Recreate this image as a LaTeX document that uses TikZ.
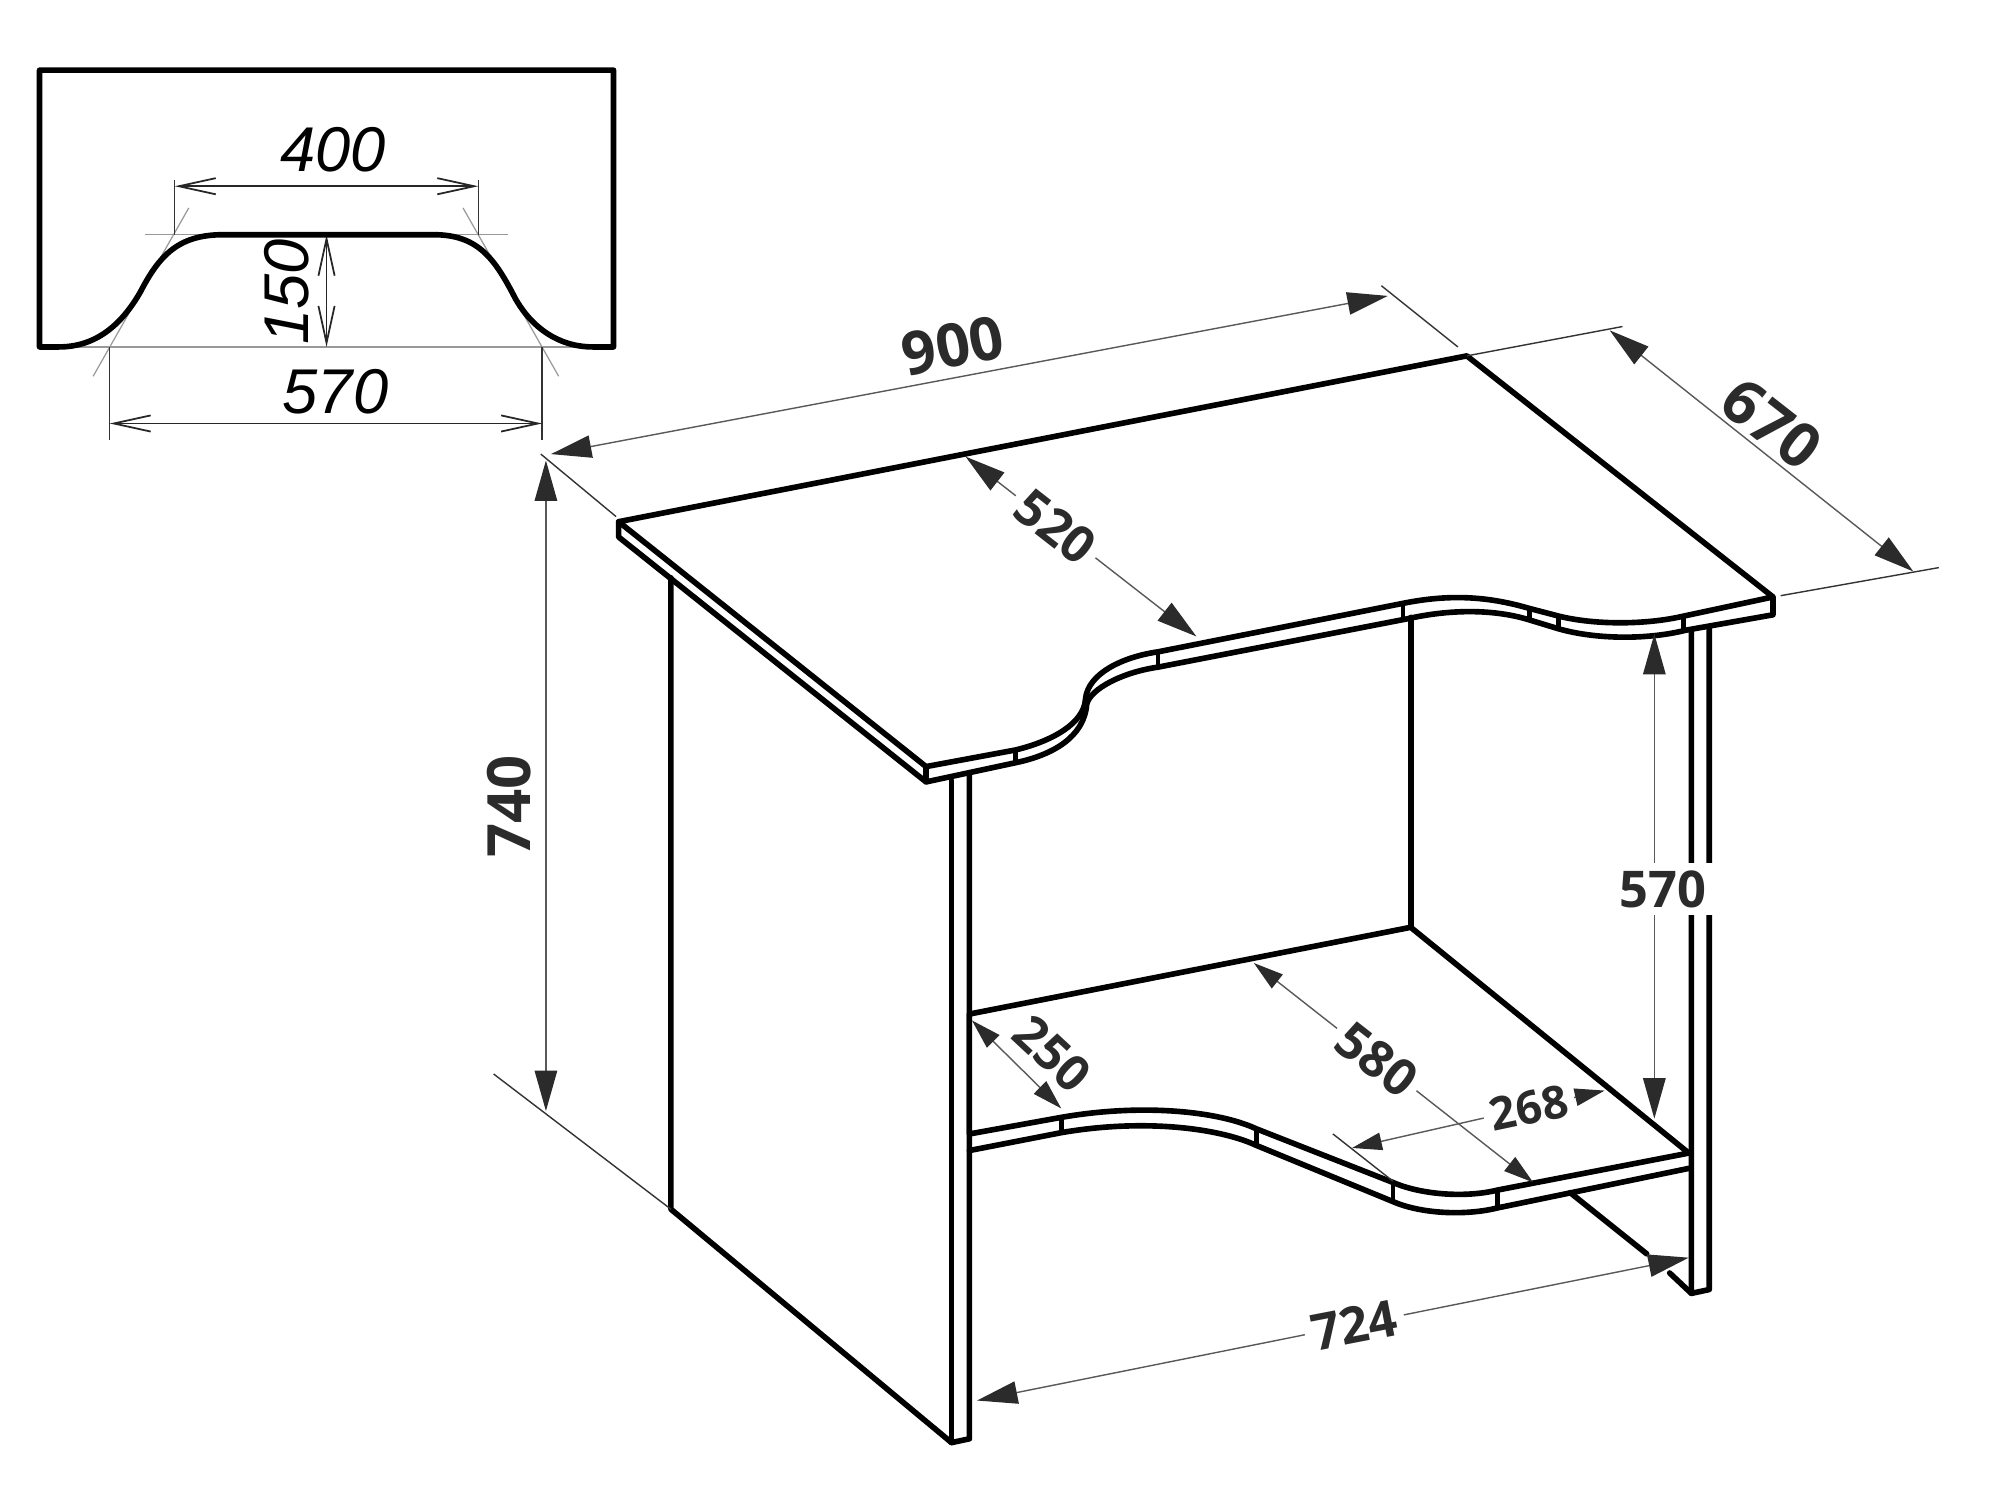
\documentclass[tikz,border=0pt]{standalone}
\usepackage{fontspec}
\usetikzlibrary{arrows.meta}
\setmainfont{Open Sans}
\newfontfamily\sketchfont{Liberation Sans}

\definecolor{tipdark}{HTML}{2B2B2B}

\begin{document}
\begin{tikzpicture}[x=0.012755cm, y=-0.012755cm,
  part/.style={line width=1.6pt, line join=round, line cap=round},
  edge/.style={line width=1.3pt},
  ext/.style={line width=0.4pt, black!80},
  faint/.style={line width=0.35pt, black!40},
  open/.style={line width=0.5pt, black!85, {Straight Barb[length=10.5pt,width=4.6pt]}-{Straight Barb[length=10.5pt,width=4.6pt]}},
  dim/.style={line width=0.4pt, black!65, {Triangle[length=11.5pt,width=6.4pt,color=tipdark]}-{Triangle[length=11.5pt,width=6.4pt,color=tipdark]}},
  smalldim/.style={line width=0.4pt, black!65, {Triangle[length=8.5pt,width=5pt,color=tipdark]}-{Triangle[length=8.5pt,width=5pt,color=tipdark]}},
  size/.style={font=\fontsize{17pt}{18pt}\selectfont\bfseries, text=tipdark, inner sep=1pt},
  midsize/.style={font=\fontsize{14.4pt}{15pt}\selectfont\bfseries, text=tipdark, inner sep=2pt},
  smallsize/.style={font=\fontsize{13pt}{14pt}\selectfont\bfseries, text=tipdark, inner sep=2pt},
  sketch/.style={font=\sketchfont\fontsize{18pt}{19pt}\selectfont\itshape, inner sep=0pt}]
\useasboundingbox (0,0) rectangle (1568,1176);

% cut-out sketch
\draw[faint] (114,184) -- (398,184);
\draw[faint] (52,272) -- (458,272);
\draw[faint] (148,163) -- (73,295);
\draw[faint] (363,163) -- (438,295);
\draw[ext] (137,141) -- (137,184);
\draw[ext] (375,141) -- (375,184);
\draw[ext] (86,272) -- (86,345);
\draw[ext] (425,272) -- (425,345);
\draw[open] (137,146) -- (375,146);
\draw[open] (86,332) -- (425,332);
\draw[open] (256,184) -- (256,272);
\draw[part] (31,272) -- (31,55) -- (481,55) -- (481,272) -- (465,272)
  .. controls (438,272) and (417,257) .. (404,234)
  .. controls (388,203) and (375,184) .. (340,184) -- (175,184)
  .. controls (140,184) and (125,200) .. (110,229)
  .. controls (95,255) and (75,272) .. (46,272) -- cycle;
\node[sketch] (w400) at (261,117) {400};
\node[sketch] (w570) at (263,307) {570};
\node[sketch, rotate=90] (h150) at (225,229) {150};

% side panels and back panel
\draw[part] (526,453) -- (526,948) -- (746,1131) -- (760,1128) -- (760,607);
\draw[part] (746,612) -- (746,1131);
\draw[part] (1326,494) -- (1326,1014) -- (1340,1011) -- (1340,492);
\draw[part] (1106,484) -- (1106,727);
\draw[part] (1231,935) -- (1291,983);
\draw[part] (1309,998) -- (1326,1014);

% shelf
\draw[part, fill=white] (760,795) -- (1106,727) -- (1324,904)
  -- (1174,933) .. controls (1150,939) and (1115,937) .. (1092,927)
  -- (985,885) .. controls (955,871) and (895,865) .. (832,876) -- (760,889) -- cycle;
\draw[part] (760,902) -- (832,888) .. controls (895,877) and (955,884) .. (985,898)
  -- (1092,942) .. controls (1115,952) and (1150,953) .. (1174,947) -- (1324,916);
\foreach \x/\ya/\yb in {832/876/888, 985/885/898, 1092/927/942, 1174/933/947}
  \draw[edge] (\x,\ya) -- (\x,\yb);

% table top
\draw[part, fill=white] (485,409) -- (1150,279) -- (1390,468) -- (1320,483)
  .. controls (1290,490) and (1250,490) .. (1222,483) -- (1199,477)
  .. controls (1165,467) and (1135,466) .. (1100,473) -- (908,511)
  .. controls (880,515) and (853,528) .. (851,548)
  .. controls (850,567) and (825,581) .. (796,588) -- (726,601) -- cycle;
\draw[part] (485,409) -- (485,421) -- (726,613) -- (726,601);
\draw[part] (726,613) -- (796,598) .. controls (825,592) and (850,578) .. (852,552)
  .. controls (855,540) and (880,527) .. (908,523) -- (1104,485)
  .. controls (1135,478) and (1170,477) .. (1199,486) -- (1222,493)
  .. controls (1250,501) and (1290,502) .. (1322,494) -- (1390,482) -- (1390,468);
\foreach \x/\ya/\yb in {796/588/598, 908/511/523, 1100/473/485, 1199/477/486, 1222/483/493, 1320/483/494}
  \draw[edge] (\x,\ya) -- (\x,\yb);

% extension lines
\draw[ext] (424,356) -- (483,405);
\draw[ext] (1083,224) -- (1143,272);
\draw[ext] (1150,279) -- (1272,256);
\draw[ext] (1396,467) -- (1520,445);
\draw[ext] (387,842) -- (526,948);
\draw[ext] (1045,889) -- (1092,926);

% dimensions
\draw[dim] (432,356) -- (1088,232);
\node[size, rotate=11] (top900) at (747,271) {900};
\draw[dim] (1262,259) -- (1500,448);
\node[size, rotate=-38, font=\fontsize{17.5pt}{18pt}\selectfont\bfseries] (top670) at (1389,332) {670};
\draw[dim] (428,361) -- (428,871);
\node[size, rotate=90] (h740) at (399,632) {740};
\draw[dim] (757,358) -- node[midsize, fill=white, rotate=-38, pos=0.39] (top520) {520} (938,499);
\draw[dim] (1297,497) -- (1297,877);
\node[midsize, fill=white] (h570) at (1304,697) {570};
\draw[dim] (766,1098) -- node[midsize, fill=white, rotate=11, pos=0.53] (w724) {724} (1324,986);
\draw[smalldim] (983,755) -- node[midsize, fill=white, rotate=-38, pos=0.44] (d580) {580} (1202,927);
\draw[smalldim] (1060,900) -- node[smallsize, fill=white, rotate=12, pos=0.7] (d268) {268} (1258,855);
\draw[smalldim] (762,800) -- (832,869);
\node[smallsize, rotate=-43, font=\fontsize{14pt}{15pt}\selectfont\bfseries] (d250) at (825,826) {250};
\end{tikzpicture}
\end{document}
